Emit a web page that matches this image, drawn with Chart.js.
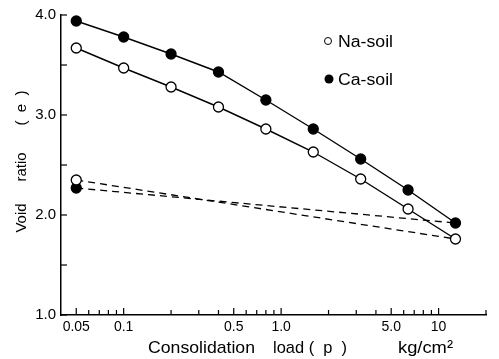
<!DOCTYPE html>
<html>
<head>
<meta charset="utf-8">
<script src="https://cdn.jsdelivr.net/npm/chart.js@4"></script>
<style>
  body { margin: 0; background: #fff; }
  canvas { display: block; }
</style>
</head>
<body>
<canvas id="cvs" width="499" height="359"></canvas>
<script>
// consolidation loads, kg/cm2
const loads = [0.05, 0.1, 0.2, 0.4, 0.8, 1.6, 3.2, 6.4, 12.8];
// void ratio during loading
const naSoil = [3.67, 3.47, 3.28, 3.08, 2.86, 2.63, 2.36, 2.06, 1.76];
const caSoil = [3.94, 3.78, 3.61, 3.43, 3.15, 2.86, 2.56, 2.25, 1.92];
// unloading (rebound) lines
const reboundLoads = [0.05, 12.8];
const naRebound = [2.35, 1.76];
const caRebound = [2.27, 1.92];

const xTickValues = [0.05, 0.06, 0.07, 0.08, 0.09, 0.1, 0.2, 0.3, 0.4, 0.5, 0.6, 0.7, 0.8, 0.9,
                     1, 2, 3, 4, 5, 6, 7, 8, 9, 10, 20];
const xTickLabels = {0.05: '0.05', 0.1: '0.1', 0.5: '0.5', 1: '1.0', 5: '5.0', 10: '10'};
const yTickLabels = {1: '1.0', 2: '2.0', 3: '3.0', 4: '4.0'};

const pts = (xs, ys) => xs.map((x, i) => ({x: x, y: ys[i]}));
const FONT = '"Liberation Sans", Arial, sans-serif';

// text stretched to a given width (the original lettering is spaced out)
function fitText(ctx, str, x, y, size, width) {
    ctx.save();
    ctx.font = size + 'px ' + FONT;
    const w = ctx.measureText(str).width;
    ctx.translate(x, y);
    ctx.scale(width / w, 1);
    ctx.fillText(str, 0, 0);
    ctx.restore();
}

// inward tick marks, extra text and the legend
const decor = {
    id: 'decor',
    afterDraw(chart) {
        const ctx = chart.ctx, xs = chart.scales.x, ys = chart.scales.y;
        const area = chart.chartArea;
        ctx.save();
        ctx.strokeStyle = '#000';
        ctx.lineWidth = 1.2;
        xs.ticks.forEach(t => {
            const px = xs.getPixelForValue(t.value);
            const len = xTickLabels[t.value] ? 7 : 5;
            ctx.beginPath();
            ctx.moveTo(px, area.bottom);
            ctx.lineTo(px, area.bottom - len);
            ctx.stroke();
        });
        ys.ticks.forEach(t => {
            const py = ys.getPixelForValue(t.value);
            ctx.beginPath();
            ctx.moveTo(area.left, py);
            ctx.lineTo(area.left + 6, py);
            ctx.stroke();
        });

        ctx.fillStyle = '#000';
        ctx.textBaseline = 'alphabetic';
        ctx.textAlign = 'left';
        fitText(ctx, 'Consolidation', 148, 353, 17, 107);
        fitText(ctx, 'load (  p  )', 273, 353, 17, 74);
        fitText(ctx, 'kg/cm²', 398, 353, 17, 55);

        ctx.save();
        ctx.translate(22, 0);
        ctx.rotate(-Math.PI / 2);
        ctx.textAlign = 'center';
        ctx.textBaseline = 'middle';
        ctx.font = '15px ' + FONT;
        ctx.fillText('Void', -218, 0);
        ctx.fillText('ratio', -167, 0);
        ctx.fillText('(  e  )', -108, 0);
        ctx.restore();

        // legend
        ctx.lineWidth = 1;
        ctx.beginPath();
        ctx.arc(328, 41, 3.5, 0, 2 * Math.PI);
        ctx.fillStyle = '#fff';
        ctx.fill();
        ctx.stroke();
        ctx.beginPath();
        ctx.arc(329, 79, 4.5, 0, 2 * Math.PI);
        ctx.fillStyle = '#000';
        ctx.fill();
        ctx.textBaseline = 'middle';
        fitText(ctx, 'Na-soil', 338, 43, 16, 55);
        fitText(ctx, 'Ca-soil', 338, 81, 16, 55);
        ctx.restore();
    }
};

new Chart(document.getElementById('cvs'), {
    type: 'line',
    data: {
        datasets: [
            {
                label: 'Na-soil rebound',
                data: pts(reboundLoads, naRebound),
                borderColor: '#000', borderWidth: 1.3, borderDash: [7, 5],
                pointRadius: [5, 0], pointBackgroundColor: '#fff', pointBorderColor: '#000', pointBorderWidth: 1.3
            },
            {
                label: 'Ca-soil rebound',
                data: pts(reboundLoads, caRebound),
                borderColor: '#000', borderWidth: 1.3, borderDash: [7, 5],
                pointRadius: [5, 0], pointBackgroundColor: '#000', pointBorderColor: '#000', pointBorderWidth: 1.3
            },
            {
                label: 'Na-soil',
                data: pts(loads, naSoil),
                borderColor: '#000', borderWidth: 1.4,
                pointRadius: 5, pointBackgroundColor: '#fff', pointBorderColor: '#000', pointBorderWidth: 1.3
            },
            {
                label: 'Ca-soil',
                data: pts(loads, caSoil),
                borderColor: '#000', borderWidth: 1.4,
                pointRadius: 5, pointBackgroundColor: '#000', pointBorderColor: '#000', pointBorderWidth: 1.3
            }
        ]
    },
    options: {
        responsive: false,
        animation: false,
        devicePixelRatio: 1,
        layout: { padding: { top: 15, right: 13, left: 0, bottom: 0 } },
        plugins: { legend: { display: false }, tooltip: { enabled: false } },
        scales: {
            x: {
                type: 'logarithmic',
                min: 0.04, max: 20,
                afterBuildTicks: s => { s.ticks = xTickValues.map(v => ({value: v})); },
                afterFit: s => { s.height = 44; },
                grid: { display: false, drawTicks: false },
                border: { display: true, color: '#000', width: 1.5 },
                ticks: {
                    autoSkip: false, maxRotation: 0, padding: 4,
                    color: '#000', font: { family: FONT, size: 14 },
                    callback: v => xTickLabels[v] || ''
                }
            },
            y: {
                min: 1, max: 4,
                afterBuildTicks: s => { s.ticks = [1, 1.5, 2, 2.5, 3, 3.5, 4].map(v => ({value: v})); },
                afterFit: s => { s.width = 61; },
                grid: { display: false, drawTicks: false },
                border: { display: true, color: '#000', width: 1.5 },
                ticks: {
                    padding: 5, color: '#000', font: { family: FONT, size: 15 },
                    callback: v => yTickLabels[v] || ''
                }
            }
        }
    },
    plugins: [decor]
});
</script>
</body>
</html>
